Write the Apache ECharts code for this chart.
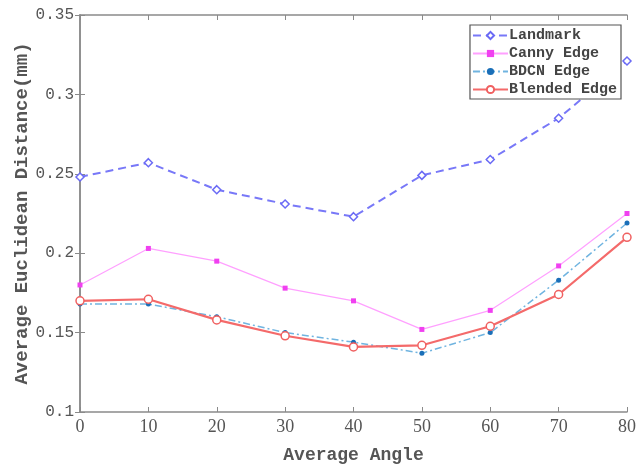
<!DOCTYPE html>
<html><head><meta charset="utf-8">
<script src="https://cdn.jsdelivr.net/npm/echarts@6/dist/echarts.min.js"></script>
<style>html,body{margin:0;padding:0;background:#fff}#c{width:638px;height:467px}</style>
</head><body><div id="c"></div>
<script>
const angles = [0, 10, 20, 30, 40, 50, 60, 70, 80];
const landmark = [0.248, 0.257, 0.240, 0.231, 0.223, 0.249, 0.259, 0.285, 0.321];
const canny = [0.180, 0.203, 0.195, 0.178, 0.170, 0.152, 0.164, 0.192, 0.225];
const bdcn = [0.168, 0.168, 0.160, 0.150, 0.144, 0.137, 0.150, 0.183, 0.219];
const blended = [0.170, 0.171, 0.158, 0.148, 0.141, 0.142, 0.154, 0.174, 0.210];
const yTicks = [0.1, 0.15, 0.2, 0.25, 0.3, 0.35];
const names = ['Landmark', 'Canny Edge', 'BDCN Edge', 'Blended Edge'];

const font = 'Liberation Serif';
const mono = 'Liberation Mono';
const axisCol = '#8a8a8a';
const txtCol = '#555';
const chart = echarts.init(document.getElementById('c'));
const pts = arr => arr.map((v, i) => [angles[i], v]);
chart.setOption({
  animation: false,
  backgroundColor: '#fff',
  grid: { left: 80, right: 11, top: 15, bottom: 55, outerBoundsMode: 'none', containLabel: false },
  legend: {
    orient: 'vertical', right: 17, top: 25,
    backgroundColor: '#fff', borderColor: '#555', borderWidth: 1.2,
    padding: [2, 4, 1, 2], itemGap: 1, itemWidth: 35, itemHeight: 9,
    textStyle: { fontFamily: mono, fontSize: 15, color: '#444', fontWeight: 'bold', padding: [0, 0, 0, -4], lineHeight: 17 },
    data: names
  },
  xAxis: [{
    type: 'value', min: 0, max: 80, interval: 10,
    name: 'Average Angle', nameLocation: 'middle', nameGap: 34, nameMoveOverlap: false,
    nameTextStyle: { fontFamily: mono, fontSize: 18, color: txtCol, fontWeight: 'bold' },
    axisLine: { lineStyle: { color: axisCol, width: 1.5 } },
    axisTick: { inside: true, length: 5, lineStyle: { color: axisCol } },
    axisLabel: { fontFamily: font, fontSize: 18, color: txtCol, margin: 6 },
    splitLine: { show: false }
  }, {
    type: 'value', min: 0, max: 80, interval: 10, position: 'top',
    axisLine: { show: true, lineStyle: { color: axisCol, width: 1.5 } },
    axisTick: { inside: true, length: 5, lineStyle: { color: axisCol } },
    axisLabel: { show: false }, splitLine: { show: false }
  }],
  yAxis: [{
    type: 'value', min: 0.1, max: 0.35, interval: 0.05,
    name: 'Average Euclidean Distance(mm)', nameLocation: 'middle', nameGap: 48, nameMoveOverlap: false,
    nameTextStyle: { fontFamily: mono, fontSize: 19, color: txtCol, fontWeight: 'bold' },
    axisLine: { show: true, lineStyle: { color: axisCol, width: 1.5 } },
    axisTick: { inside: true, length: 5, lineStyle: { color: axisCol } },
    axisLabel: { fontFamily: mono, fontSize: 16, color: txtCol, margin: 6,
      formatter: v => { const t = yTicks.find(x => Math.abs(x - v) < 1e-9); return t === undefined ? '' : String(t); } },
    splitLine: { show: false }
  }, {
    type: 'value', min: 0.1, max: 0.35, interval: 0.05, position: 'right',
    axisLine: { show: true, lineStyle: { color: axisCol, width: 1.5 } },
    axisTick: { inside: true, length: 5, lineStyle: { color: axisCol } },
    axisLabel: { show: false }, splitLine: { show: false }
  }],
  series: [
    { name: names[0], type: 'line', data: pts(landmark), symbol: 'diamond', symbolSize: 8,
      color: '#6a6af5',
      itemStyle: { color: '#fff', borderColor: '#6a6af5', borderWidth: 1.5 },
      lineStyle: { color: '#7878f8', width: 2, type: [8, 5] } },
    { name: names[1], type: 'line', data: pts(canny), symbol: 'rect', symbolSize: 5,
      color: '#f050f0',
      itemStyle: { color: '#f040f0' },
      lineStyle: { color: '#ffa0ff', width: 1.2 } },
    { name: names[2], type: 'line', data: pts(bdcn), symbol: 'circle', symbolSize: 5,
      color: '#1a6fb8',
      itemStyle: { color: '#1a6fb8' },
      lineStyle: { color: '#70b4e0', width: 1.5, type: [7, 3, 2, 3] } },
    { name: names[3], type: 'line', data: pts(blended), symbol: 'circle', symbolSize: 8,
      color: '#f06a6a',
      itemStyle: { color: '#fff', borderColor: '#f06060', borderWidth: 1.5 },
      lineStyle: { color: '#f46a6a', width: 2.2 } }
  ]
});
</script></body></html>
